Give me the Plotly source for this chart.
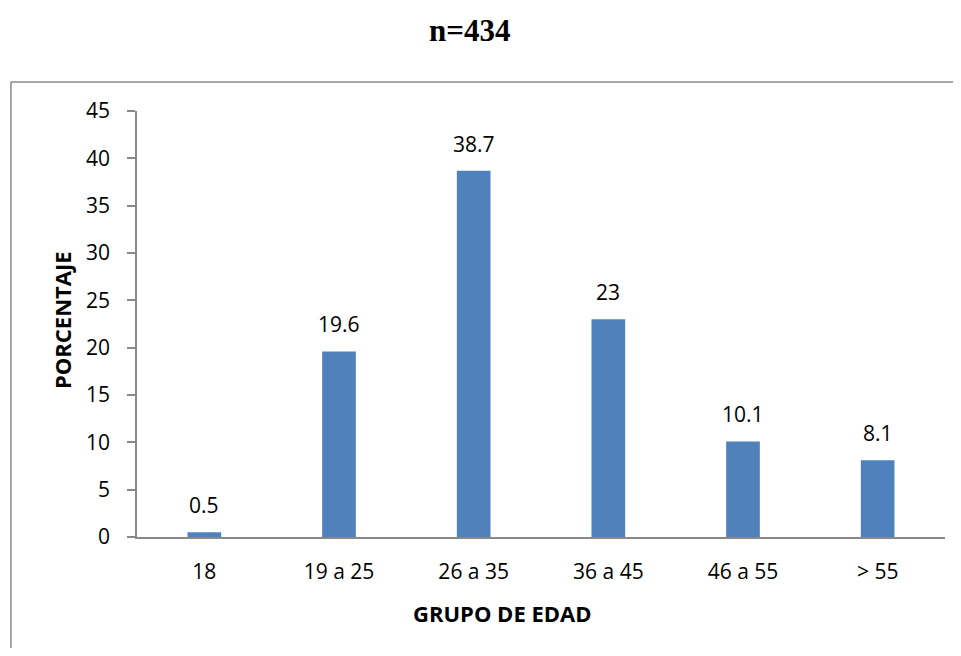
import plotly.graph_objects as go

categories = ["18", "19 a 25", "26 a 35", "36 a 45", "46 a 55", "> 55"]
percentages = [0.5, 19.6, 38.7, 23, 10.1, 8.1]
y_ticks = [0, 5, 10, 15, 20, 25, 30, 35, 40, 45]

BAR = "#4F81BD"
AXIS = "#898989"
FONT = "Open Sans"

fig = go.Figure()
fig.add_trace(go.Bar(
    x=categories, y=percentages, width=0.25,
    marker=dict(color=BAR, line=dict(width=0)),
    showlegend=False, hoverinfo="x+y",
))

for i, v in enumerate(percentages):
    fig.add_annotation(x=i, y=v, xref="x", yref="y", text=f"{v:g}",
                       showarrow=False, yanchor="bottom", yshift=11,
                       font=dict(family=FONT, size=21, color="black"))

fig.add_annotation(x=0.411, y=1.19, xref="paper", yref="paper", text="<b>n=434</b>",
                   showarrow=False, xanchor="center", yanchor="middle",
                   font=dict(family="Liberation Serif", size=31, color="black"))
fig.add_annotation(x=-0.093, y=0.509, xref="paper", yref="paper", text="<b>PORCENTAJE</b>",
                   showarrow=False, textangle=-90, xanchor="center", yanchor="middle",
                   font=dict(family=FONT, size=22, color="black"))
fig.add_annotation(x=0.452, y=-0.178, xref="paper", yref="paper", text="<b>GRUPO DE EDAD</b>",
                   showarrow=False, xanchor="center", yanchor="middle",
                   font=dict(family=FONT, size=22, color="black"))

# chart-area border: only left and top edges are visible in the reference
fig.add_shape(type="line", xref="paper", yref="paper", x0=-0.156, x1=-0.156, y0=-0.3, y1=1.068,
              line=dict(color=AXIS, width=1.5), layer="below")
fig.add_shape(type="line", xref="paper", yref="paper", x0=-0.156, x1=1.1, y0=1.068, y1=1.068,
              line=dict(color=AXIS, width=1.5), layer="below")

fig.update_layout(
    width=953, height=640,
    margin=dict(l=129, r=16, t=103, b=111, autoexpand=False),
    paper_bgcolor="white", plot_bgcolor="white",
    font=dict(family=FONT, size=21, color="black"),
    bargap=0.75,
)
fig.update_xaxes(type="category", range=[-0.5, 5.5], showline=True, linecolor=AXIS,
                 linewidth=1.5, showgrid=False, ticks="", ticklabelstandoff=15, tickangle=0,
                 automargin=False, tickfont=dict(size=21))
fig.update_yaxes(range=[0, 45], tickvals=y_ticks, showline=True, linecolor=AXIS, linewidth=1.5,
                 showgrid=False, zeroline=False, ticks="outside", ticklen=8, tickcolor=AXIS,
                 tickwidth=1.5, ticklabelstandoff=13, automargin=False, tickfont=dict(size=21))

fig.write_html("out.html")
